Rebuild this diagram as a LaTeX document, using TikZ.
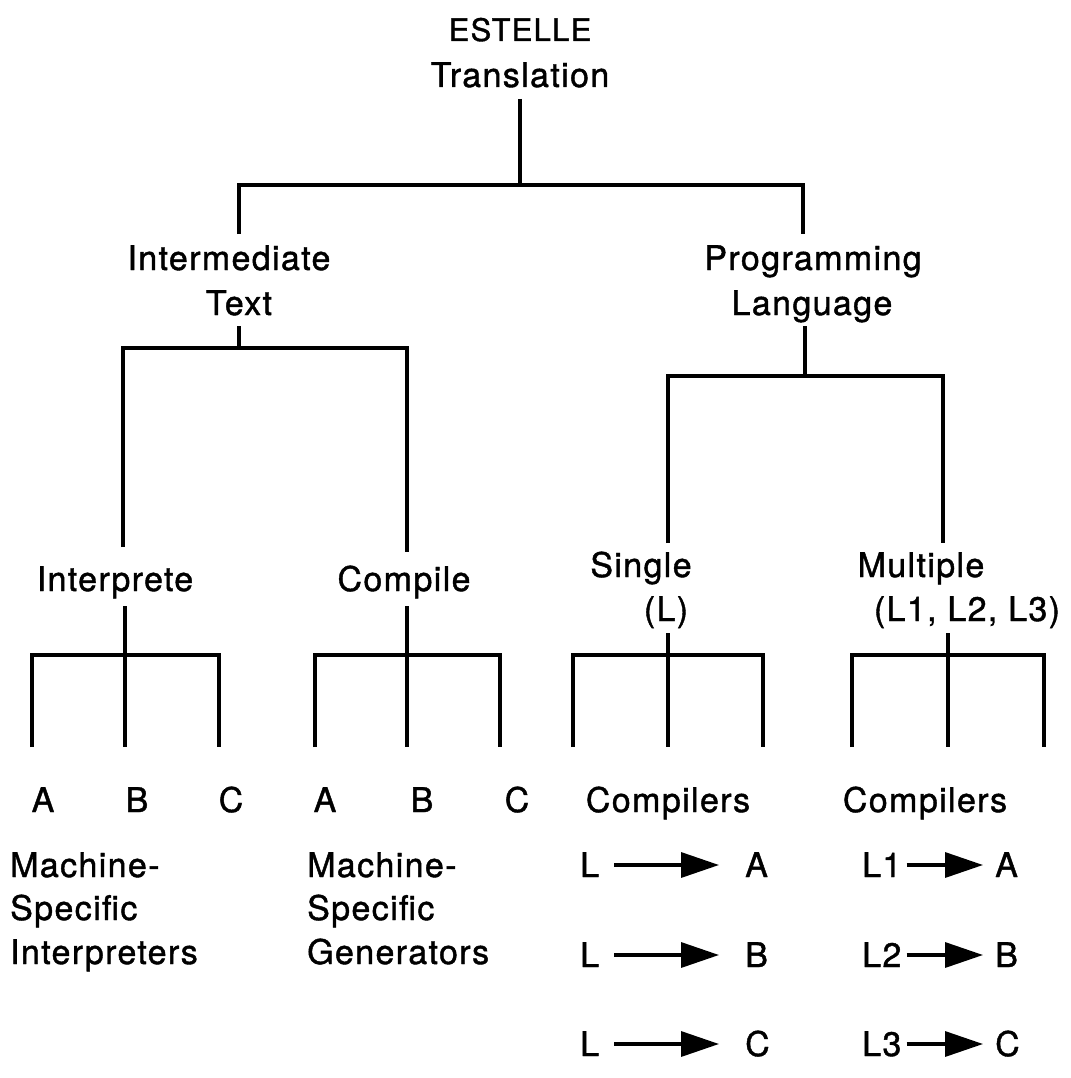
\documentclass[tikz,border=0pt]{standalone}
\usepackage{fontspec}
\setmainfont{TeX Gyre Heros}[LetterSpace=4,FakeBold=1.2]
\usetikzlibrary{arrows.meta}
\begin{document}
\begin{tikzpicture}[x=1pt,y=-1pt,
  lbl/.style={anchor=base,inner sep=0pt,font=\fontsize{34}{40}\selectfont},
  lleft/.style={lbl,anchor=base west},
  tree/.style={line width=3.8pt,line cap=butt,line join=miter},
  conv/.style={line width=3.4pt,-{Triangle[length=38pt,width=25pt]}}]
\useasboundingbox[fill=white] (0,0) rectangle (1070,1078);

% ---- labels ----
\node[lbl,font=\fontsize{31}{34}\selectfont] (est) at (520,41) {ESTELLE};
\node[lbl] (trans) at (520,87) {Translation};

\node[lbl] (inter) at (229,270) {Intermediate};
\node[lbl] (itext) at (239,315) {Text};
\node[lbl] (prog) at (813,270) {Programming};
\node[lbl] (lang) at (812,315) {Language};

\node[lbl] (interp) at (115,591) {Interprete};
\node[lbl] (comp) at (404,591) {Compile};
\node[lbl] (single) at (641,577) {Single};
\node[lbl] (sl) at (666,621) {(L)};
\node[lbl] (multi) at (921,577) {Multiple};
\node[lbl] (ml) at (967,621) {(L1, L2, L3)};

\node[lbl] (ia) at (43,812) {A};
\node[lbl] (ib) at (137,812) {B};
\node[lbl] (ic) at (231,812) {C};
\node[lbl] (ca) at (325,812) {A};
\node[lbl] (cb) at (422,812) {B};
\node[lbl] (cc) at (517,812) {C};
\node[lbl] (scomp) at (668,812) {Compilers};
\node[lbl] (mcomp) at (925,812) {Compilers};

\node[lleft] (mi1) at (10,877) {Machine-};
\node[lleft] (mi2) at (10,920) {Specific};
\node[lleft] (mi3) at (10,964) {Interpreters};
\node[lleft] (mg1) at (307,877) {Machine-};
\node[lleft] (mg2) at (307,920) {Specific};
\node[lleft] (mg3) at (307,964) {Generators};

% ---- compiler mappings ----
\foreach \r/\y/\t in {1/877/A,2/967/B,3/1056/C}{
  \node[lleft] (sl\r) at (580,\y) {L};
  \node[lleft] (st\r) at (745,\y) {\t};
  \draw[conv] ([xshift=15pt,yshift=12pt]sl\r.base east) -- ([xshift=-26pt,yshift=12pt]st\r.base west);
  \node[lleft] (ml\r) at (862,\y) {L\r};
  \node[lleft] (mt\r) at (995,\y) {\t};
  \draw[conv] ([xshift=5pt,yshift=12pt]ml\r.base east) -- ([xshift=-12pt,yshift=12pt]mt\r.base west);
}

% ---- tree: first level ----
\coordinate (root) at (520,99);
\coordinate (rootbar) at (520,185);
\coordinate (itop) at (239,234);
\coordinate (ptop) at (803,234);
\draw[tree] (root) -- (rootbar);
\draw[tree] (itop) |- (rootbar) -| (ptop);

% ---- tree: second level, intermediate text ----
\coordinate (ibot) at (239,326);
\coordinate (ibar) at (239,348);
\coordinate (interptop) at (123,547);
\coordinate (comptop) at (407,552);
\draw[tree] (ibot) -- (ibar);
\draw[tree] (interptop) |- (ibar) -| (comptop);

% ---- tree: second level, programming language ----
\coordinate (pbot) at (805,326);
\coordinate (pbar) at (805,376);
\coordinate (singletop) at (668,543);
\coordinate (multitop) at (943,543);
\draw[tree] (pbot) -- (pbar);
\draw[tree] (singletop) |- (pbar) -| (multitop);

% ---- tree: three-way splits ----
\foreach \n/\l/\c/\r/\t in {i/32/125/219/606, c/315/407/500/606, s/573/668/763/633, m/852/948/1044/633}{
  \coordinate (\n-top) at (\c,\t);
  \coordinate (\n-bar) at (\c,655);
  \coordinate (\n-a) at (\l,747);
  \coordinate (\n-b) at (\c,747);
  \coordinate (\n-c) at (\r,747);
  \draw[tree] (\n-top) -- (\n-b);
  \draw[tree] (\n-a) |- (\n-bar) -| (\n-c);
}
\end{tikzpicture}
\end{document}
